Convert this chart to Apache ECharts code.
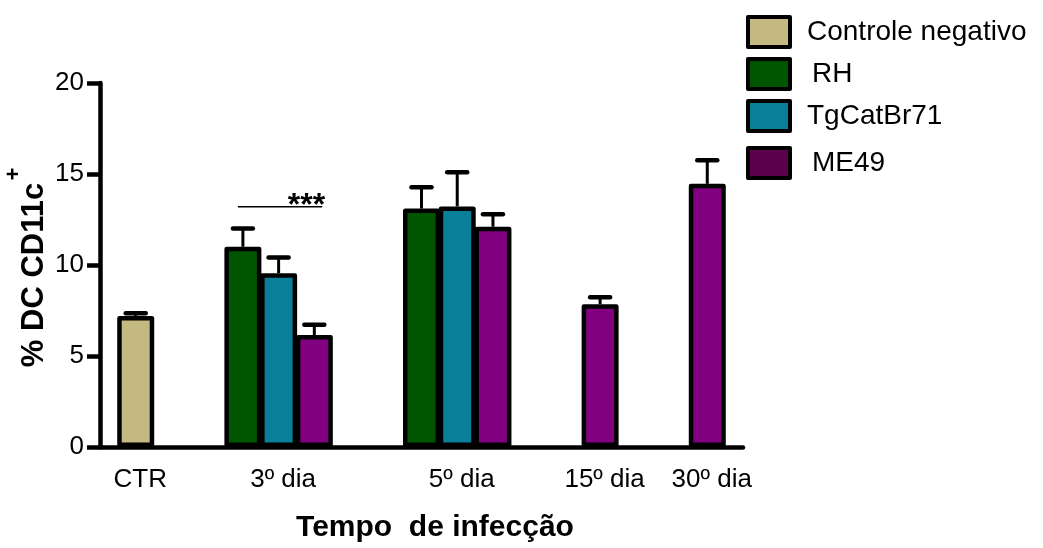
<!DOCTYPE html>
<html>
<head>
<meta charset="utf-8">
<script src="https://cdn.jsdelivr.net/npm/echarts@6/dist/echarts.min.js"></script>
<style>html,body{margin:0;padding:0;background:#fff}#c{width:1043px;height:548px}</style>
</head>
<body>
<div id="c"></div>
<script>
// ---- data ----
var groups = ['CTR', '3º dia', '5º dia', '15º dia', '30º dia'];
var seriesNames = ['Controle negativo', 'RH', 'TgCatBr71', 'ME49'];
var controleVals = [7.2, null, null, null, null];
var controleErr  = [0.15, null, null, null, null];
var rhVals = [null, 11.0, 13.1, null, null];
var rhErr  = [null, 1.0, 1.17, null, null];
var tgVals = [null, 9.55, 13.22, null, null];
var tgErr  = [null, 0.86, 1.88, null, null];
var me49Vals = [null, 6.15, 12.1, 7.84, 14.46];
var me49Err  = [null, 0.57, 0.69, 0.39, 1.29];
var yTicks = [0, 5, 10, 15, 20];
var signifText = '***';

// ---- layout (not data) ----
var groupSlot = [1, 5, 10, 14, 17];
var nSlots = 19;
var colors = ['#c3b981', '#005500', '#0a7f9a', '#800080'];
var legendColors = ['#c3b981', '#005500', '#0a7f9a', '#5c004c'];
var FONT = 'Liberation Sans, Arial, sans-serif';

var allVals = [controleVals, rhVals, tgVals, me49Vals];
var allErr = [controleErr, rhErr, tgErr, me49Err];

var slotLabels = [];
for (var i = 0; i < nSlots; i++) slotLabels.push(String(i));
var labelMap = {};
groups.forEach(function (g, gi) { labelMap[groupSlot[gi]] = g; });

var barData = allVals.map(function () { var a = []; for (var i = 0; i < nSlots; i++) a.push(null); return a; });
var errData = [];
var slotOf = {};
groups.forEach(function (g, gi) {
  var present = [];
  allVals.forEach(function (vals, si) { if (vals[gi] != null) present.push(si); });
  present.forEach(function (si, k) {
    var slot = groupSlot[gi] + k - (present.length - 1) / 2;
    barData[si][slot] = allVals[si][gi];
    errData.push([slot, allVals[si][gi], allVals[si][gi] + allErr[si][gi]]);
    slotOf[si + '_' + gi] = slot;
  });
});
// significance bracket: 3º dia, RH vs ME49
var sigData = [[slotOf['1_1'], slotOf['3_1'], 13.2]];

var series = seriesNames.map(function (n, si) {
  return {
    name: n, type: 'bar', data: barData[si], barWidth: 37, barGap: '-100%',
    itemStyle: { color: colors[si], borderColor: '#000', borderWidth: 4.5, borderJoin: 'round' },
    z: 3
  };
});
series.push({
  type: 'custom', z: 5, silent: true,
  data: errData,
  renderItem: function (params, api) {
    var x = api.value(0), v = api.value(1), hi = api.value(2);
    var p0 = api.coord([x, v]), p1 = api.coord([x, hi]);
    return { type: 'group', children: [
      { type: 'line', shape: { x1: p0[0], y1: p0[1], x2: p1[0], y2: p1[1] }, style: { stroke: '#000', lineWidth: 3 } },
      { type: 'line', shape: { x1: p1[0] - 10, y1: p1[1], x2: p1[0] + 10, y2: p1[1] }, style: { stroke: '#000', lineWidth: 4.5, lineCap: 'round' } }
    ] };
  }
});
series.push({
  type: 'custom', z: 5, silent: true,
  data: sigData,
  renderItem: function (params, api) {
    var a = api.coord([api.value(0), api.value(2)]);
    var b = api.coord([api.value(1), api.value(2)]);
    var w = b[0] - a[0];
    var xa = a[0] - w * 0.07, xb = b[0] + w * 0.11;
    return { type: 'group', children: [
      { type: 'line', shape: { x1: xa, y1: a[1], x2: xb, y2: a[1] }, style: { stroke: '#000', lineWidth: 1.5 } },
      { type: 'text', style: { text: signifText, x: xb + 3, y: a[1] - 1, align: 'right', verticalAlign: 'middle', font: 'bold 32px ' + FONT, fill: '#000' } }
    ] };
  }
});

var legendText = {
  color: '#000', fontSize: 28, fontFamily: FONT, padding: [0, 0, 0, 12],
  rich: { s: { color: '#000', fontSize: 28, fontFamily: FONT, padding: [0, 0, 0, 5] } }
};
function legendFmt(n) { return (n === 'RH' || n === 'ME49') ? '{s|' + n + '}' : n; }

var option = {
  animation: false,
  backgroundColor: '#fff',
  grid: { left: 100, top: 83, width: 643, height: 371 },
  legend: [
    {
      orient: 'vertical', left: 741, top: 10, itemWidth: 42, itemHeight: 30, itemGap: 8, icon: 'rect',
      selectedMode: false, textStyle: legendText, formatter: legendFmt,
      itemStyle: { borderColor: '#000', borderWidth: 4 },
      data: [0, 1, 2].map(function (i) { return { name: seriesNames[i], itemStyle: { color: legendColors[i] } }; })
    },
    {
      orient: 'vertical', left: 741, top: 141, itemWidth: 42, itemHeight: 30, icon: 'rect',
      selectedMode: false, textStyle: legendText, formatter: legendFmt,
      itemStyle: { borderColor: '#000', borderWidth: 4 },
      data: [{ name: seriesNames[3], itemStyle: { color: legendColors[3] } }]
    }
  ],
  xAxis: {
    type: 'category', data: slotLabels, boundaryGap: false,
    axisLine: { lineStyle: { color: '#000', width: 4.5 } },
    axisTick: { show: false },
    axisLabel: {
      interval: 0, color: '#000', fontSize: 26, fontFamily: FONT, margin: 20, padding: [0, 0, 0, 9],
      formatter: function (v, idx) { return labelMap[idx] || ''; }
    },
    name: 'Tempo  de infecção', nameLocation: 'middle', nameGap: 66,
    nameTextStyle: { color: '#000', fontSize: 30, fontWeight: 'bold', fontFamily: FONT, padding: [0, 0, 0, 27] },
    splitLine: { show: false }
  },
  yAxis: {
    type: 'value', min: yTicks[0], max: yTicks[yTicks.length - 1], interval: yTicks[1] - yTicks[0],
    axisLine: { show: true, lineStyle: { color: '#000', width: 4.5 } },
    axisTick: { show: true, length: 13, lineStyle: { color: '#000', width: 4.5 } },
    axisLabel: { color: '#000', fontSize: 26, fontFamily: FONT, margin: 16 },
    splitLine: { show: false }
  },
  graphic: [
    { type: 'text', x: 34, y: 275, rotation: Math.PI / 2,
      style: { text: '% DC CD11c', font: 'bold 31px ' + FONT, fill: '#000', align: 'center', verticalAlign: 'middle' } },
    { type: 'text', x: 14, y: 174, rotation: Math.PI / 2,
      style: { text: '+', font: 'bold 22px ' + FONT, fill: '#000', align: 'center', verticalAlign: 'middle' } }
  ],
  series: series
};
var chart = echarts.init(document.getElementById('c'));
chart.setOption(option);
</script>
</body>
</html>
